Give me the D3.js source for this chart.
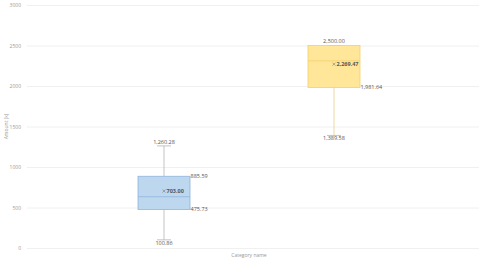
<!DOCTYPE html>
<html>
<head>
<meta charset="utf-8">
<script src="https://cdn.jsdelivr.net/npm/d3@7"></script>
<style>
  body { margin: 0; background: #fff; }
  svg text { font-family: "Open Sans", "DejaVu Sans", sans-serif; }
</style>
</head>
<body>
<div id="chart"></div>
<script>
// data
var category = ["Category"];
var series = ["Series A", "Series B"];
var mins = [100.86, 1389.58];
var q1s = [475.73, 1981.64];
var medians = [633, 2310];
var means = [703.00, 2269.47];
var q3s = [885.59, 2500.00];
var maxs = [1260.28, 2500.00];
var yTicks = [0, 500, 1000, 1500, 2000, 2500, 3000];
var fills = ["#bdd7ee", "#ffe699"];
var strokes = ["#8fb4de", "#f5cf6a"];

var width = 479, height = 261;
var margin = {top: 5, right: 8, bottom: 13, left: 27};

var svg = d3.select("#chart").append("svg")
  .attr("width", width)
  .attr("height", height);

var y = d3.scaleLinear()
  .domain([0, 3000])
  .range([height - margin.bottom, margin.top]);

var x0 = d3.scaleBand()
  .domain(category)
  .range([margin.left, width - margin.right]);

var x1 = d3.scaleBand()
  .domain(series)
  .range([0, x0.bandwidth()])
  .paddingInner(0.694)
  .paddingOuter(0.653);

var fmt = d3.format(",.2f");

// grid
svg.append("g")
  .selectAll("line")
  .data(yTicks)
  .enter().append("line")
  .attr("x1", margin.left)
  .attr("x2", width)
  .attr("y1", function(d){ return y(d) + 0.5; })
  .attr("y2", function(d){ return y(d) + 0.5; })
  .attr("stroke", "#ececec")
  .attr("stroke-width", 0.8);

// y axis
var yAxis = svg.append("g")
  .attr("transform", "translate(" + (margin.left - 3) + ",0)")
  .call(d3.axisLeft(y).tickValues(yTicks).tickSize(0).tickFormat(d3.format("d")));
yAxis.select(".domain").remove();
yAxis.selectAll("text")
  .attr("fill", "#999")
  .style("font-size", "5px");

svg.append("text")
  .attr("transform", "translate(8," + ((margin.top + height - margin.bottom) / 2) + ") rotate(-90)")
  .attr("text-anchor", "middle")
  .attr("fill", "#999")
  .style("font-size", "5px")
  .text("Amount (k)");

// x axis label
svg.append("text")
  .attr("x", x0(category[0]) + x0.bandwidth() / 2)
  .attr("y", height - 4)
  .attr("text-anchor", "middle")
  .attr("fill", "#999")
  .style("font-size", "5px")
  .text(category[0] + " name");

var boxes = svg.append("g")
  .attr("transform", "translate(" + x0(category[0]) + ",0)");

series.forEach(function(s, i){
  var bx = x1(s);
  var bw = x1.bandwidth();
  var cx = bx + bw / 2;
  var g = boxes.append("g");

  // whiskers
  g.append("line")
    .attr("x1", cx).attr("x2", cx)
    .attr("y1", y(maxs[i])).attr("y2", y(q3s[i]))
    .attr("stroke", "#b5b5b5").attr("stroke-width", 0.8);
  g.append("line")
    .attr("x1", cx).attr("x2", cx)
    .attr("y1", y(q1s[i])).attr("y2", y(mins[i]))
    .attr("stroke", i == 0 ? "#b5b5b5" : "#e8cf8a").attr("stroke-width", 0.8);
  [maxs[i], mins[i]].forEach(function(v){
    g.append("line")
      .attr("x1", cx - 7).attr("x2", cx + 7)
      .attr("y1", y(v)).attr("y2", y(v))
      .attr("stroke", "#b5b5b5").attr("stroke-width", 0.8);
  });

  // box
  g.append("rect")
    .attr("x", bx)
    .attr("y", y(q3s[i]))
    .attr("width", bw)
    .attr("height", y(q1s[i]) - y(q3s[i]))
    .attr("fill", fills[i])
    .attr("stroke", strokes[i])
    .attr("stroke-width", 0.8);

  g.append("line")
    .attr("x1", bx).attr("x2", bx + bw)
    .attr("y1", y(medians[i])).attr("y2", y(medians[i]))
    .attr("stroke", strokes[i]).attr("stroke-width", 0.8);

  // mean marker
  var my = y(means[i]);
  g.append("path")
    .attr("d", "M" + (cx - 1.5) + "," + (my - 1.5) + "L" + (cx + 1.5) + "," + (my + 1.5) +
               "M" + (cx + 1.5) + "," + (my - 1.5) + "L" + (cx - 1.5) + "," + (my + 1.5))
    .attr("stroke", "#777").attr("stroke-width", 0.6);

  // labels
  function label(xp, yp, txt, anchor, bold){
    g.append("text")
      .attr("x", xp).attr("y", yp)
      .attr("text-anchor", anchor)
      .attr("dy", "0.35em")
      .attr("fill", "#555")
      .style("font-size", "5.5px")
      .style("font-weight", bold ? "bold" : "normal")
      .text(txt);
  }
  label(cx, y(maxs[i]) - 4, fmt(maxs[i]), "middle");
  label(cx, y(mins[i]) + 3, fmt(mins[i]), "middle");
  label(cx + 2.5, my, fmt(means[i]), "start", true);
  if (q3s[i] != maxs[i]) label(bx + bw + 0.5, y(q3s[i]), fmt(q3s[i]), "start");
  label(bx + bw + 0.5, y(q1s[i]), fmt(q1s[i]), "start");
});
</script>
</body>
</html>
